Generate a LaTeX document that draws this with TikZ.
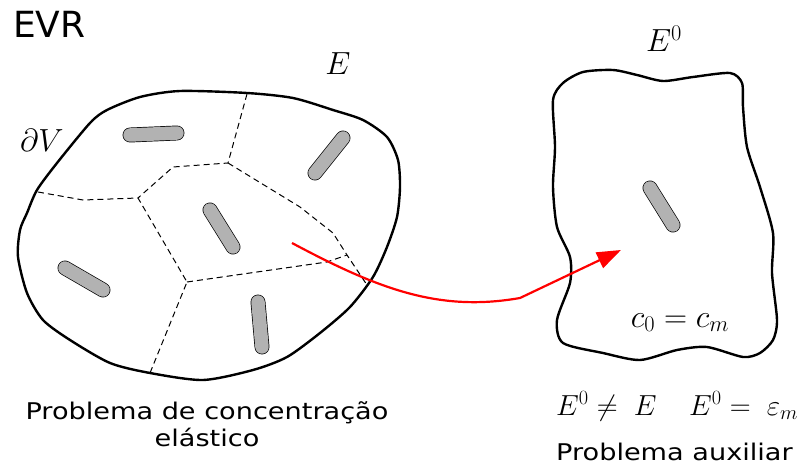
\documentclass[tikz,border=0pt]{standalone}
\usepackage{fix-cm}
\usepackage[no-math]{fontspec}
\setmainfont{DejaVu Sans}
\newfontfamily\widesans[FakeStretch=1.18]{DejaVu Sans}
\usepackage{xcolor}
\usetikzlibrary{positioning,calc,arrows.meta}
\definecolor{rodgray}{RGB}{178,178,178}
\definecolor{arrowred}{RGB}{255,0,0}

\begin{document}
\begin{tikzpicture}[
		x=1pt,
		y=-1pt,
		outline/.style={draw=black, line width=2.4pt, line join=round},
		cellwall/.style={draw=black, line width=1pt, dash pattern=on 6pt off 4pt},
		rod/.style={draw=black, line width=0.7pt, double=rodgray, double distance=13.5pt, line cap=round},
		flow/.style={-{Triangle[length=24pt,width=17pt]}, line width=2.2pt, draw=arrowred},
		bigtxt/.style={font=\fontsize{36}{40}\selectfont, inner sep=0pt},
		captxt/.style={font=\widesans\fontsize{23}{26}\selectfont, inner sep=0pt},
		mathtxt/.style={font=\fontsize{32}{36}\selectfont, inner sep=0pt},
		eqtxt/.style={font=\fontsize{29}{33}\selectfont, inner sep=0pt}
	]
	
	% Canvas
	\useasboundingbox (0,0) rectangle (800,470);
	
	% Heterogeneous body
	\draw[outline] plot[smooth cycle, tension=0.45] coordinates {
		(180,91) (247,93) (293,98) (333,110) (363,120) (387,137) (398,160)
		(400,187) (397,217) (387,247) (373,277) (350,307) (320,333) (287,357)
		(253,370) (203,380) (150,373) (110,363) (70,340) (43,320) (27,293)
		(18,257) (20,230) (27,213) (37,190) (57,163) (90,123) (107,110) (140,97)};
	
	% Grain boundaries
	\draw[cellwall] (247,94) -- (228,163) -- (173,167) -- (138,198);
	\draw[cellwall] (38,192) -- (83,200) -- (138,198) -- (187,282) -- (150,373);
	\draw[cellwall] (187,282) -- (327,262) -- (347,255);
	\draw[cellwall] (228,163) -- (300,207) -- (333,233) -- (347,255) -- (367,285);
	
	% Inclusions
	\draw[rod] (130,135) -- (177,133);
	\draw[rod] (315,173) -- (343,138);
	\draw[rod] (210,210) -- (233,247);
	\draw[rod] (65,268) -- (103,290);
	\draw[rod] (258,302) -- (262,347);
	
	% Auxiliary body
	\draw[outline] plot[smooth cycle, tension=0.45] coordinates {
		(553,100) (563,83) (583,72) (613,70) (637,75) (663,81) (693,77)
		(730,73) (742,83) (743,107) (747,147) (760,187) (773,233) (772,273)
		(777,320) (773,340) (760,353) (743,357) (707,347) (677,350) (640,360)
		(603,353) (563,343) (557,320) (570,283) (570,257) (557,227) (553,187)
		(555,147)};
	\draw[rod] (650,188) -- (673,225);
	
	% Labels
	\node[bigtxt, anchor=base west] (evr) at (13,38) {EVR};
	\node[mathtxt, anchor=base] (modE) at (338,75) {$E$};
	\node[mathtxt, anchor=base] (bound) at (42,152) {$\partial V$};
	\node[mathtxt, anchor=base] (modEzero) at (664,52) {$E^0$};
	\node[mathtxt, anchor=base] (cond) at (680,327) {$c_0 = c_m$};
	\node[eqtxt, anchor=base west] (neq) at (556,415) {$E^0 \neq\; E$};
	\node[eqtxt, anchor=base west] (eqm) at (689,415) {$E^0 =\; \varepsilon_m$};
	
	% Captions
	\node[captxt, anchor=base] (capleft) at (207,419) {Problema de concentração};
	\node[captxt, anchor=base] (capleft2) at (207,446) {elástico};
	\node[captxt, anchor=base west] (capright) at (556,460) {Problema auxiliar};
	
	% Transfer arrow
	\coordinate (arrowstart) at (292,243);
	\coordinate (arrowtip) at (621,250);
	\draw[flow] (arrowstart) .. controls (380,290) and (440,312) .. (520,298) -- (arrowtip);
	
\end{tikzpicture}
\end{document}
